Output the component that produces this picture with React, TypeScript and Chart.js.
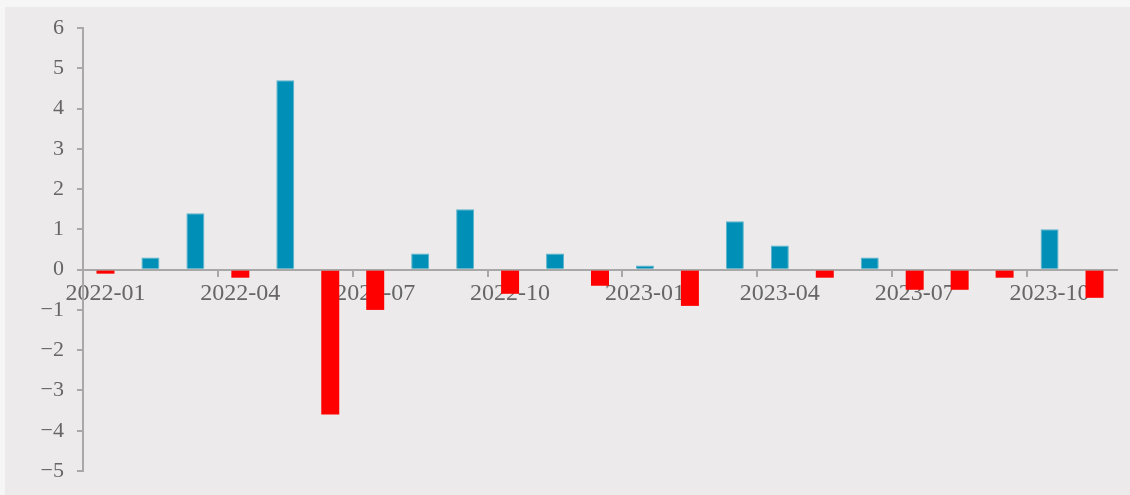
import React, { useEffect, useRef } from "react";
import { Chart, registerables } from "chart.js";

Chart.register(...registerables);

const months: string[] = [
  "2022-01", "2022-02", "2022-03", "2022-04", "2022-05", "2022-06",
  "2022-07", "2022-08", "2022-09", "2022-10", "2022-11", "2022-12",
  "2023-01", "2023-02", "2023-03", "2023-04", "2023-05", "2023-06",
  "2023-07", "2023-08", "2023-09", "2023-10", "2023-11",
];

const values: number[] = [
  -0.1, 0.3, 1.4, -0.2, 4.7, -3.6,
  -1.0, 0.4, 1.5, -0.6, 0.4, -0.4,
  0.1, -0.9, 1.2, 0.6, -0.2, 0.3,
  -0.5, -0.5, -0.2, 1.0, -0.7,
];

const yMin = -5;
const yMax = 6;

const POS = "#0090B7";
const POS_BORDER = "#5CB4CB";
const NEG = "#FF0000";
const AXIS = "#A8A8A8";
const TEXT = "#666666";
const FONT = "'Liberation Serif', 'DejaVu Serif', serif";

export default function App() {
  const ref = useRef<HTMLCanvasElement | null>(null);

  useEffect(() => {
    if (!ref.current) return;
    const chart = new Chart(ref.current, {
      type: "bar",
      data: {
        labels: months,
        datasets: [
          {
            data: values,
            backgroundColor: (c: any) => ((c.raw ?? 0) >= 0 ? POS : NEG),
            borderColor: (c: any) => ((c.raw ?? 0) >= 0 ? POS_BORDER : NEG),
            borderWidth: (c: any) => ((c.raw ?? 0) >= 0 ? 1 : 0),
            barPercentage: 0.4,
            categoryPercentage: 1,
          },
        ],
      },
      options: {
        responsive: false,
        animation: false,
        events: [],
        layout: { padding: { top: 21, right: 13, bottom: 24, left: 0 } },
        plugins: {
          legend: { display: false },
          tooltip: { enabled: false },
        },
        scales: {
          x: {
            type: "category",
            position: { y: 0 } as any,
            z: 1,
            offset: true,
            afterFit: (s: any) => {
              s.paddingLeft = 0;
              s.paddingRight = 0;
              s.paddingTop = 0;
              s.paddingBottom = 0;
            },
            border: { display: true, color: AXIS, width: 2 },
            grid: {
              offset: true,
              drawOnChartArea: false,
              drawTicks: true,
              tickLength: 6,
              lineWidth: 2,
              tickWidth: 2,
              color: (c: any) => (c.index > 0 && c.index < months.length && c.index % 3 === 0 ? AXIS : "rgba(0,0,0,0)"),
              tickColor: (c: any) => (c.index > 0 && c.index < months.length && c.index % 3 === 0 ? AXIS : "rgba(0,0,0,0)"),
            },
            ticks: {
              autoSkip: false,
              maxRotation: 0,
              minRotation: 0,
              padding: 4,
              color: TEXT,
              font: { family: FONT, size: 24 },
              callback: (_v: any, i: number) => (i % 3 === 0 ? months[i] : ""),
            },
          },
          y: {
            min: yMin,
            max: yMax,
            afterFit: (s: any) => {
              s.width = 78;
              s.paddingTop = 0;
              s.paddingBottom = 0;
            },
            border: { display: true, color: AXIS, width: 2 },
            grid: {
              drawOnChartArea: false,
              drawTicks: true,
              tickLength: 6,
              lineWidth: 2,
              tickWidth: 2,
              color: AXIS,
              tickColor: AXIS,
            },
            ticks: {
              stepSize: 1,
              padding: 13,
              color: TEXT,
              font: { family: FONT, size: 22 },
              callback: (v: any) => (Number(v) < 0 ? "\u2212" + Math.abs(Number(v)) : String(v)),
            },
          },
        },
      },
    });
    return () => chart.destroy();
  }, []);

  return (
    <div
      style={{
        position: "fixed",
        left: 0,
        top: 0,
        width: 1130,
        height: 495,
        background: "#F6F6F6",
        overflow: "hidden",
      }}
    >
      <div
        style={{
          position: "absolute",
          left: 5,
          top: 7,
          width: 1125,
          height: 488,
          background: "#ECEAEB",
        }}
      >
        <canvas ref={ref} width={1125} height={488} style={{ display: "block" }} />
      </div>
    </div>
  );
}
